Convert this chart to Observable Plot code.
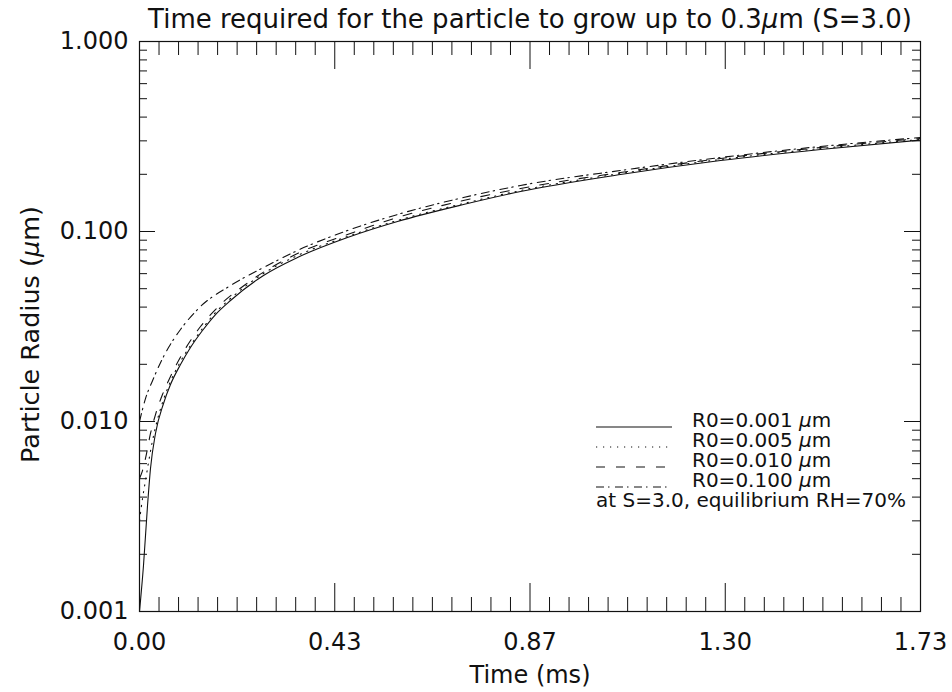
<!DOCTYPE html>
<html>
<head>
<meta charset="utf-8">
<script src="https://cdn.jsdelivr.net/npm/d3@7"></script>
<script src="https://cdn.jsdelivr.net/npm/@observablehq/plot@0.6"></script>
<style>
  html, body { margin: 0; padding: 0; background: #fff; }
  svg { display: block; }
</style>
</head>
<body>
<div id="chart"></div>
<script>
// ---------- data ----------
const titleText = "Time required for the particle to grow up to 0.3μm (S=3.0)";
const xTitle = "Time (ms)";
const yTitle = "Particle Radius (μm)";
const noteText = "at S=3.0, equilibrium RH=70%";

const seriesNames = ["R0=0.001 μm", "R0=0.005 μm", "R0=0.010 μm", "R0=0.100 μm"];
const seriesDash = [null, "1.2,5.8", "9,11", "8,4,1.5,5.5"];

const t_r001 = [0, 0.0089, 0.0178, 0.0244, 0.0355, 0.0533, 0.0688, 0.0910, 0.1132, 0.1398, 0.1687, 0.2020, 0.2752, 0.3506, 0.4616, 0.5726, 0.7190, 0.8456, 1.0675, 1.2894, 1.5113, 1.7333];
const r_r001 = [0.00100, 0.00175, 0.00361, 0.00566, 0.00865, 0.01244, 0.01566, 0.01995, 0.02452, 0.03012, 0.03657, 0.04334, 0.0587, 0.0730, 0.0930, 0.1129, 0.1387, 0.1624, 0.1995, 0.2364, 0.2701, 0.3028];

const t_r005 = [0, 0.0067, 0.0133, 0.0200, 0.0289, 0.0399, 0.0533, 0.0688, 0.0910, 0.1132, 0.1398, 0.1687, 0.2020, 0.2752, 0.3506, 0.4616, 0.5726, 0.7190, 0.8456, 1.0675, 1.2894, 1.5113, 1.7333];
const r_r005 = [0.00301, 0.00393, 0.00489, 0.00609, 0.00794, 0.01024, 0.01305, 0.01624, 0.02069, 0.02512, 0.03086, 0.03748, 0.04440, 0.0601, 0.0747, 0.0941, 0.1143, 0.1404, 0.1643, 0.2019, 0.2393, 0.2734, 0.3050];

const t_r010 = [0, 0.0067, 0.0133, 0.0244, 0.0355, 0.0510, 0.0644, 0.1021, 0.1354, 0.1753, 0.2352, 0.3506, 0.4616, 0.5726, 0.7190, 0.8456, 1.0675, 1.2894, 1.5113, 1.7333];
const r_r010 = [0.00501, 0.00552, 0.00639, 0.00865, 0.01088, 0.01387, 0.0164, 0.02422, 0.03162, 0.04030, 0.05263, 0.0766, 0.0964, 0.1185, 0.1456, 0.1684, 0.2044, 0.2422, 0.2767, 0.3087];

const t_r100 = [0, 0.0133, 0.0289, 0.0466, 0.0644, 0.0910, 0.1354, 0.2020, 0.2752, 0.3506, 0.4616, 0.5726, 0.7190, 0.8456, 1.0675, 1.2894, 1.5113, 1.7333];
const r_r100 = [0.0100, 0.0132, 0.0164, 0.0204, 0.0245, 0.03049, 0.0403, 0.05197, 0.06463, 0.07943, 0.1012, 0.1229, 0.1510, 0.1747, 0.2095, 0.2452, 0.2802, 0.3125];

const xMax = 1.7333;
const xMajorTicks = [0, 0.43333, 0.86667, 1.3, 1.7333];
const xTickLabels = ["0.00", "0.43", "0.87", "1.30", "1.73"];
const yMajorTicks = [0.001, 0.01, 0.1, 1];
const yTickLabels = ["0.001", "0.010", "0.100", "1.000"];

// ---------- build ----------
const W = 952, H = 692;
const mL = 139, mR = 32, mT = 41, mB = 81;
const plotW = W - mL - mR, plotH = H - mT - mB;

const seriesT = [t_r001, t_r005, t_r010, t_r100];
const seriesR = [r_r001, r_r005, r_r010, r_r100];
const tables = seriesT.map((ts, s) => ts.map((t, i) => ({t, r: seriesR[s][i], s})));

const xMinor = d3.range(0, 41).map(i => i * xMax / 40).filter((d, i) => i % 10 !== 0);
const yMinor = [];
for (const dec of [0.001, 0.01, 0.1]) for (let k = 2; k <= 9; k++) yMinor.push(dec * k);

const ink = "#111";
const font = "'DejaVu Sans', sans-serif";
const marks = [];
tables.forEach((tab, s) => {
  marks.push(Plot.line(tab, {x: "t", y: "r", stroke: ink, strokeWidth: 1.1,
    strokeDasharray: seriesDash[s] || undefined, curve: "monotone-x", clip: true}));
});
// ticks (inward on all four sides)
marks.push(Plot.tickX(xMinor, {x: d => d, stroke: ink, insetTop: plotH - 14}));
marks.push(Plot.tickX(xMajorTicks, {x: d => d, stroke: ink, insetTop: plotH - 28}));
marks.push(Plot.tickX(xMinor, {x: d => d, stroke: ink, insetBottom: plotH - 14}));
marks.push(Plot.tickX(xMajorTicks, {x: d => d, stroke: ink, insetBottom: plotH - 28}));
marks.push(Plot.tickY(yMinor, {y: d => d, stroke: ink, insetRight: plotW - 8}));
marks.push(Plot.tickY(yMajorTicks, {y: d => d, stroke: ink, insetRight: plotW - 16}));
marks.push(Plot.tickY(yMinor, {y: d => d, stroke: ink, insetLeft: plotW - 8}));
marks.push(Plot.tickY(yMajorTicks, {y: d => d, stroke: ink, insetLeft: plotW - 16}));
marks.push(Plot.frame({stroke: ink, strokeWidth: 1.2}));
// axes labels
marks.push(Plot.axisX(xMajorTicks, {anchor: "bottom", tickSize: 0, tickPadding: 21, label: null,
  tickFormat: d => xTickLabels[xMajorTicks.indexOf(d)], fill: ink}));
marks.push(Plot.axisY(yMajorTicks, {anchor: "left", tickSize: 0, tickPadding: 11, label: null,
  tickFormat: d => yTickLabels[yMajorTicks.indexOf(d)], fill: ink}));
marks.push(Plot.text([titleText], {frameAnchor: "top", lineAnchor: "middle", dy: -22, fontSize: 26, fill: ink}));
marks.push(Plot.text([xTitle], {frameAnchor: "bottom", lineAnchor: "middle", dy: 64, fontSize: 24, fill: ink}));
marks.push(Plot.text([yTitle], {frameAnchor: "left", textAnchor: "middle", lineAnchor: "middle", dx: -109, dy: 8, rotate: -90, fontSize: 25.5, fill: ink}));

const chart = Plot.plot({
  width: W, height: H,
  marginLeft: mL, marginRight: mR, marginTop: mT, marginBottom: mB,
  x: {domain: [0, xMax], axis: null},
  y: {type: "log", domain: [0.001, 1], axis: null},
  style: {fontFamily: font, fontSize: "24px", color: ink, background: "#fff"},
  marks
});

// legend
const svg = d3.select(chart);
const lg = svg.append("g").attr("font-family", font).attr("font-size", 20)
  .attr("fill", ink).attr("text-anchor", "start");
seriesNames.forEach((name, i) => {
  const y = 427 + 20 * i;
  lg.append("line").attr("x1", 596).attr("x2", 672).attr("y1", y).attr("y2", y)
    .attr("stroke", ink).attr("stroke-width", 1.1)
    .attr("stroke-dasharray", seriesDash[i]);
  lg.append("text").attr("x", 692).attr("y", y).text(name);
});
lg.append("text").attr("x", 596).attr("y", 507).text(noteText);

// italic mu
svg.selectAll("text").each(function() {
  const el = d3.select(this);
  if (this.querySelector("tspan")) return;
  const s = this.textContent;
  if (!s.includes("μ")) return;
  const parts = s.split("μ");
  el.text(null);
  parts.forEach((p, i) => {
    if (i > 0) el.append("tspan").attr("font-style", "italic").text("μ");
    if (p) el.append("tspan").text(p);
  });
});

document.getElementById("chart").appendChild(chart);
</script>
</body>
</html>
